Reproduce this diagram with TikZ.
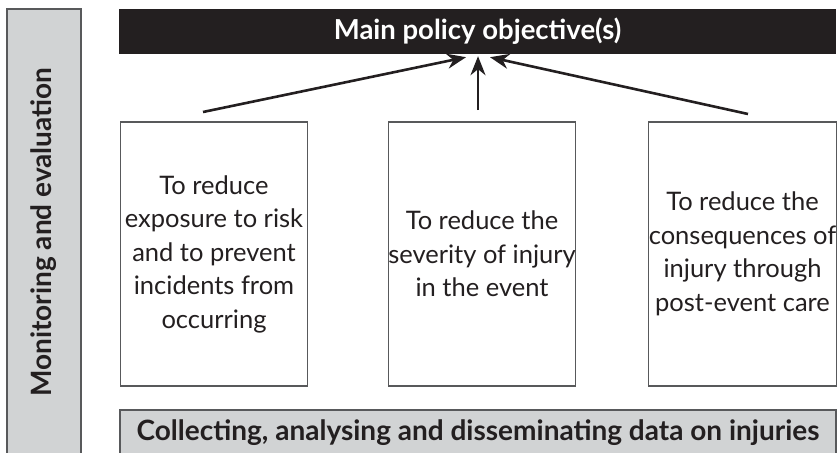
\documentclass[tikz,border=0pt]{standalone}
\usepackage{fontspec}
\setmainfont{Lato}
\usetikzlibrary{arrows.meta}
\definecolor{ink}{HTML}{231F20}
\definecolor{panel}{HTML}{D1D3D4}
\definecolor{rim}{HTML}{58595B}

\begin{document}
\begin{tikzpicture}[x=1pt,y=-1pt,>={Stealth[length=19pt,width=15pt,inset=6pt]},
 aim/.style={draw=rim,line width=1.1pt,fill=white,text=ink,minimum width=187pt,
  minimum height=264pt,align=center,font=\fontsize{25.5}{33.5}\selectfont,inner sep=0pt},
 band/.style={draw=rim,line width=1.1pt,fill=panel,text=ink,inner sep=0pt,
  font=\fontsize{28}{32}\selectfont\bfseries},
 push/.style={->,ink,line width=2.6pt}]
 \clip (0,0) rectangle (837,452);

 \node[band,rotate=90,minimum width=446pt,minimum height=74pt] (monitor) at (44,232) {Monitoring and evaluation};
 \node[fill=ink,text=white,minimum width=717pt,minimum height=45pt,inner sep=0pt,
  font=\fontsize{27.5}{32}\selectfont\bfseries] (main) at (477.5,31.5) {Main policy objective(s)};

 \node[aim] (S1) at (214,254) {To reduce\\exposure to risk\\and to prevent\\incidents from\\occurring};
 \node[aim] (S2) at (482,254) {To reduce the\\severity of injury\\in the event};
 \node[aim] (S3) at (742.5,254) {To reduce the\\consequences of\\injury through\\post-event care};

 \node[band,minimum width=716pt,minimum height=46pt] (data) at (478,433) {Collecting, analysing and disseminating data on injuries};

 \coordinate (f1) at (203,112);
 \coordinate (f2) at (478,110);
 \coordinate (f3) at (748,114);
 \draw[push] (f1) -- ([shift={(-11.5,3)}]main.south);
 \draw[push] (f2) -- ([shift={(0.5,2)}]main.south);
 \draw[push] (f3) -- ([shift={(12.5,3)}]main.south);
\end{tikzpicture}
\end{document}
